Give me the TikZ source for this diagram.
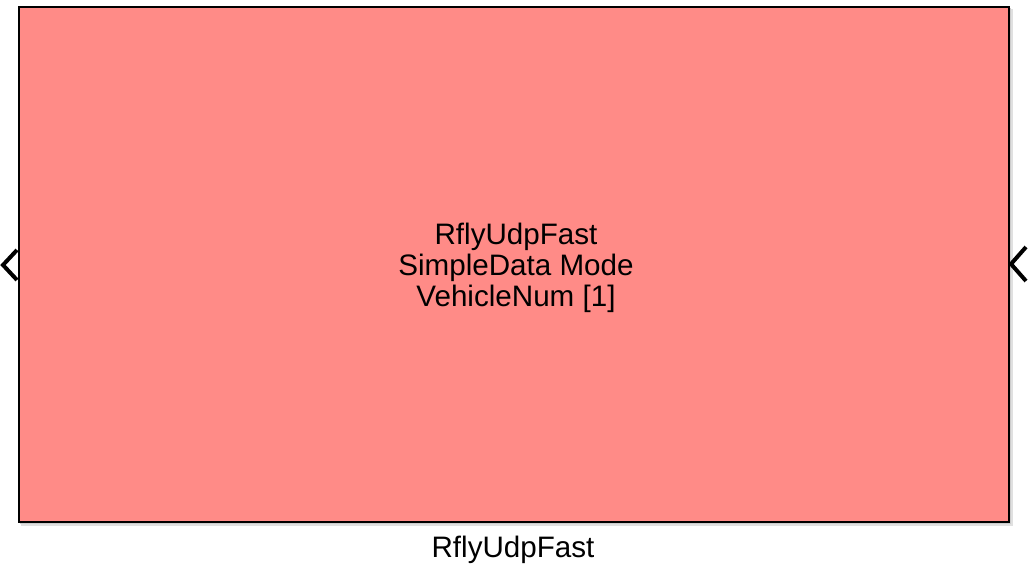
\documentclass[tikz,border=0pt]{standalone}
\usepackage{fontspec}
\setmainfont{Liberation Sans}
\begin{document}
\begin{tikzpicture}[x=1pt,y=-1pt,
  blockfill/.style={fill={rgb,255:red,255;green,139;blue,135}},
  blockline/.style={draw=black,line width=1.6pt},
  port/.style={draw=black,line width=4pt,line cap=butt,line join=miter},
  lbl/.style={font=\fontsize{29.6}{31}\selectfont,align=center,inner sep=0pt,text=black}]
\useasboundingbox (0,0) rectangle (1030,563);
% shadow
\fill[black!12] (21,9) rectangle (1013,526);
\fill[black!20] (20,8) rectangle (1011,524);
\fill[black!30] (19,7) rectangle (1010,523);
% block
\node[blockfill,blockline,minimum width=990pt,minimum height=515pt,inner sep=0pt,anchor=north west] (blk) at (18,6) {};
\node[lbl] (txt) at (516,268) {RflyUdpFast\\SimpleData Mode\\VehicleNum [1]};
\node[lbl,anchor=base] (name) at (513,557) {RflyUdpFast};
% ports
\coordinate (inA) at (17,250);
\coordinate (inB) at (17,280);
\coordinate (inTip) at (3,265);
\draw[port] (inA) -- (inTip) -- (inB);
\coordinate (outA) at (1026,247);
\coordinate (outB) at (1026,281);
\coordinate (outTip) at (1011,264);
\draw[port] (outA) -- (outTip) -- (outB);
\end{tikzpicture}
\end{document}
